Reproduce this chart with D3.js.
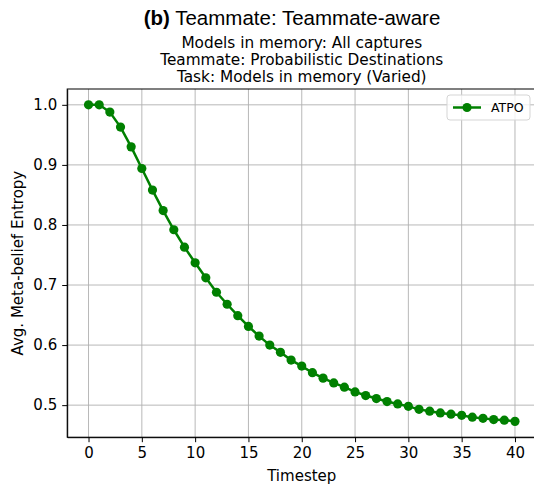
<!DOCTYPE html>
<html>
<head>
<meta charset="utf-8">
<script src="https://cdn.jsdelivr.net/npm/d3@7"></script>
<style>
  body { margin: 0; background: #fff; }
  text { font-family: "DejaVu Sans", sans-serif; fill: #000; }
</style>
</head>
<body>
<div id="chart"></div>
<script>
// data
var timesteps = d3.range(0, 41);
var entropy = [1.000, 1.000, 0.988, 0.963, 0.930, 0.894, 0.858, 0.824, 0.792, 0.763,
               0.737, 0.712, 0.688, 0.668, 0.649, 0.631, 0.615, 0.600, 0.588, 0.575,
               0.565, 0.554, 0.545, 0.537, 0.530, 0.522, 0.516, 0.511, 0.506, 0.502,
               0.498, 0.493, 0.490, 0.487, 0.485, 0.483, 0.480, 0.478, 0.476, 0.475,
               0.473];
var xTicks = [0, 5, 10, 15, 20, 25, 30, 35, 40];
var yTicks = [0.5, 0.6, 0.7, 0.8, 0.9, 1.0];
var titleBold = "(b)";
var titleRest = " Teammate: Teammate-aware";
var subtitles = ["Models in memory: All captures",
                 "Teammate: Probabilistic Destinations",
                 "Task: Models in memory (Varied)"];
var seriesName = "ATPO";

var W = 534, H = 490;
var margin = {top: 89, right: -2.3, bottom: 52.8, left: 67.2};
var width = W - margin.left - margin.right,
    height = H - margin.top - margin.bottom;

var svg = d3.select("#chart").append("svg")
    .attr("width", W)
    .attr("height", H);

// matplotlib-like 5% margins
var xmin = d3.min(timesteps), xmax = d3.max(timesteps);
var ymin = d3.min(entropy), ymax = d3.max(entropy);
var xpad = (xmax - xmin) * 0.05, ypad = (ymax - ymin) * 0.05;

var x = d3.scaleLinear().domain([xmin - xpad, xmax + xpad]).range([0, width]);
var y = d3.scaleLinear().domain([ymin - ypad, ymax + ypad]).range([height, 0]);

var g = svg.append("g")
    .attr("transform", "translate(" + margin.left + "," + margin.top + ")");

// grid
g.append("g").selectAll("line").data(xTicks).enter().append("line")
    .attr("x1", function(d) { return x(d); })
    .attr("x2", function(d) { return x(d); })
    .attr("y1", 0).attr("y2", height)
    .attr("stroke", "#b0b0b0").attr("stroke-width", 0.9);
g.append("g").selectAll("line").data(yTicks).enter().append("line")
    .attr("y1", function(d) { return y(d); })
    .attr("y2", function(d) { return y(d); })
    .attr("x1", 0).attr("x2", width)
    .attr("stroke", "#b0b0b0").attr("stroke-width", 0.9);

// axes
var xAxis = g.append("g")
    .attr("transform", "translate(0," + height + ")")
    .call(d3.axisBottom(x).tickValues(xTicks).tickSize(5).tickPadding(5).tickSizeOuter(0));
var yAxis = g.append("g")
    .call(d3.axisLeft(y).tickValues(yTicks).tickSize(5).tickPadding(5).tickSizeOuter(0)
      .tickFormat(d3.format(".1f")));
[xAxis, yAxis].forEach(function(a) {
  a.selectAll("text").style("font-size", "15px").style("font-family", "DejaVu Sans");
  a.selectAll("line").attr("stroke", "#000").attr("stroke-width", 1);
  a.select(".domain").attr("stroke", "#000").attr("stroke-width", 1);
});

// top/right spines
g.append("rect")
    .attr("x", 0).attr("y", 0).attr("width", width).attr("height", height)
    .attr("fill", "none").attr("stroke", "#000").attr("stroke-width", 1);

// line + markers
var line = d3.line()
    .x(function(d, i) { return x(timesteps[i]); })
    .y(function(d) { return y(d); });

g.append("path")
    .attr("d", line(entropy))
    .attr("fill", "none")
    .attr("stroke", "green")
    .attr("stroke-width", 2.5);

g.append("g").selectAll("circle").data(entropy).enter().append("circle")
    .attr("cx", function(d, i) { return x(timesteps[i]); })
    .attr("cy", function(d) { return y(d); })
    .attr("r", 4.6)
    .attr("fill", "green");

// legend
var lg = svg.append("g").attr("transform", "translate(447,95)");
lg.append("rect")
    .attr("width", 83).attr("height", 25).attr("rx", 3)
    .attr("fill", "#fff").attr("fill-opacity", 0.8)
    .attr("stroke", "#d5d5d5").attr("stroke-width", 1);
lg.append("line")
    .attr("x1", 6).attr("x2", 34).attr("y1", 12.5).attr("y2", 12.5)
    .attr("stroke", "green").attr("stroke-width", 2.5);
lg.append("circle").attr("cx", 20).attr("cy", 12.5).attr("r", 4.6).attr("fill", "green");
lg.append("text")
    .attr("x", 44).attr("y", 17)
    .style("font-size", "12.5px")
    .text(seriesName);

// titles
var cx = margin.left + width / 2;
var t = svg.append("text")
    .attr("x", 292).attr("y", 25)
    .attr("text-anchor", "middle")
    .style("font-family", "'Liberation Sans', Arial, sans-serif")
    .style("font-size", "20.5px");
t.append("tspan").style("font-weight", "bold").text(titleBold);
t.append("tspan").text(titleRest);

svg.selectAll(".sub").data(subtitles).enter().append("text")
    .attr("class", "sub")
    .attr("x", cx)
    .attr("y", function(d, i) { return 47.7 + i * 17; })
    .attr("text-anchor", "middle")
    .style("font-size", "15.3px")
    .text(function(d) { return d; });

// axis labels
svg.append("text")
    .attr("x", margin.left + x(20)).attr("y", 481)
    .attr("text-anchor", "middle")
    .style("font-size", "15px")
    .text("Timestep");
svg.append("text")
    .attr("transform", "translate(23," + (margin.top + height / 2) + ") rotate(-90)")
    .attr("text-anchor", "middle")
    .style("font-size", "15px")
    .text("Avg. Meta-belief Entropy");
</script>
</body>
</html>
